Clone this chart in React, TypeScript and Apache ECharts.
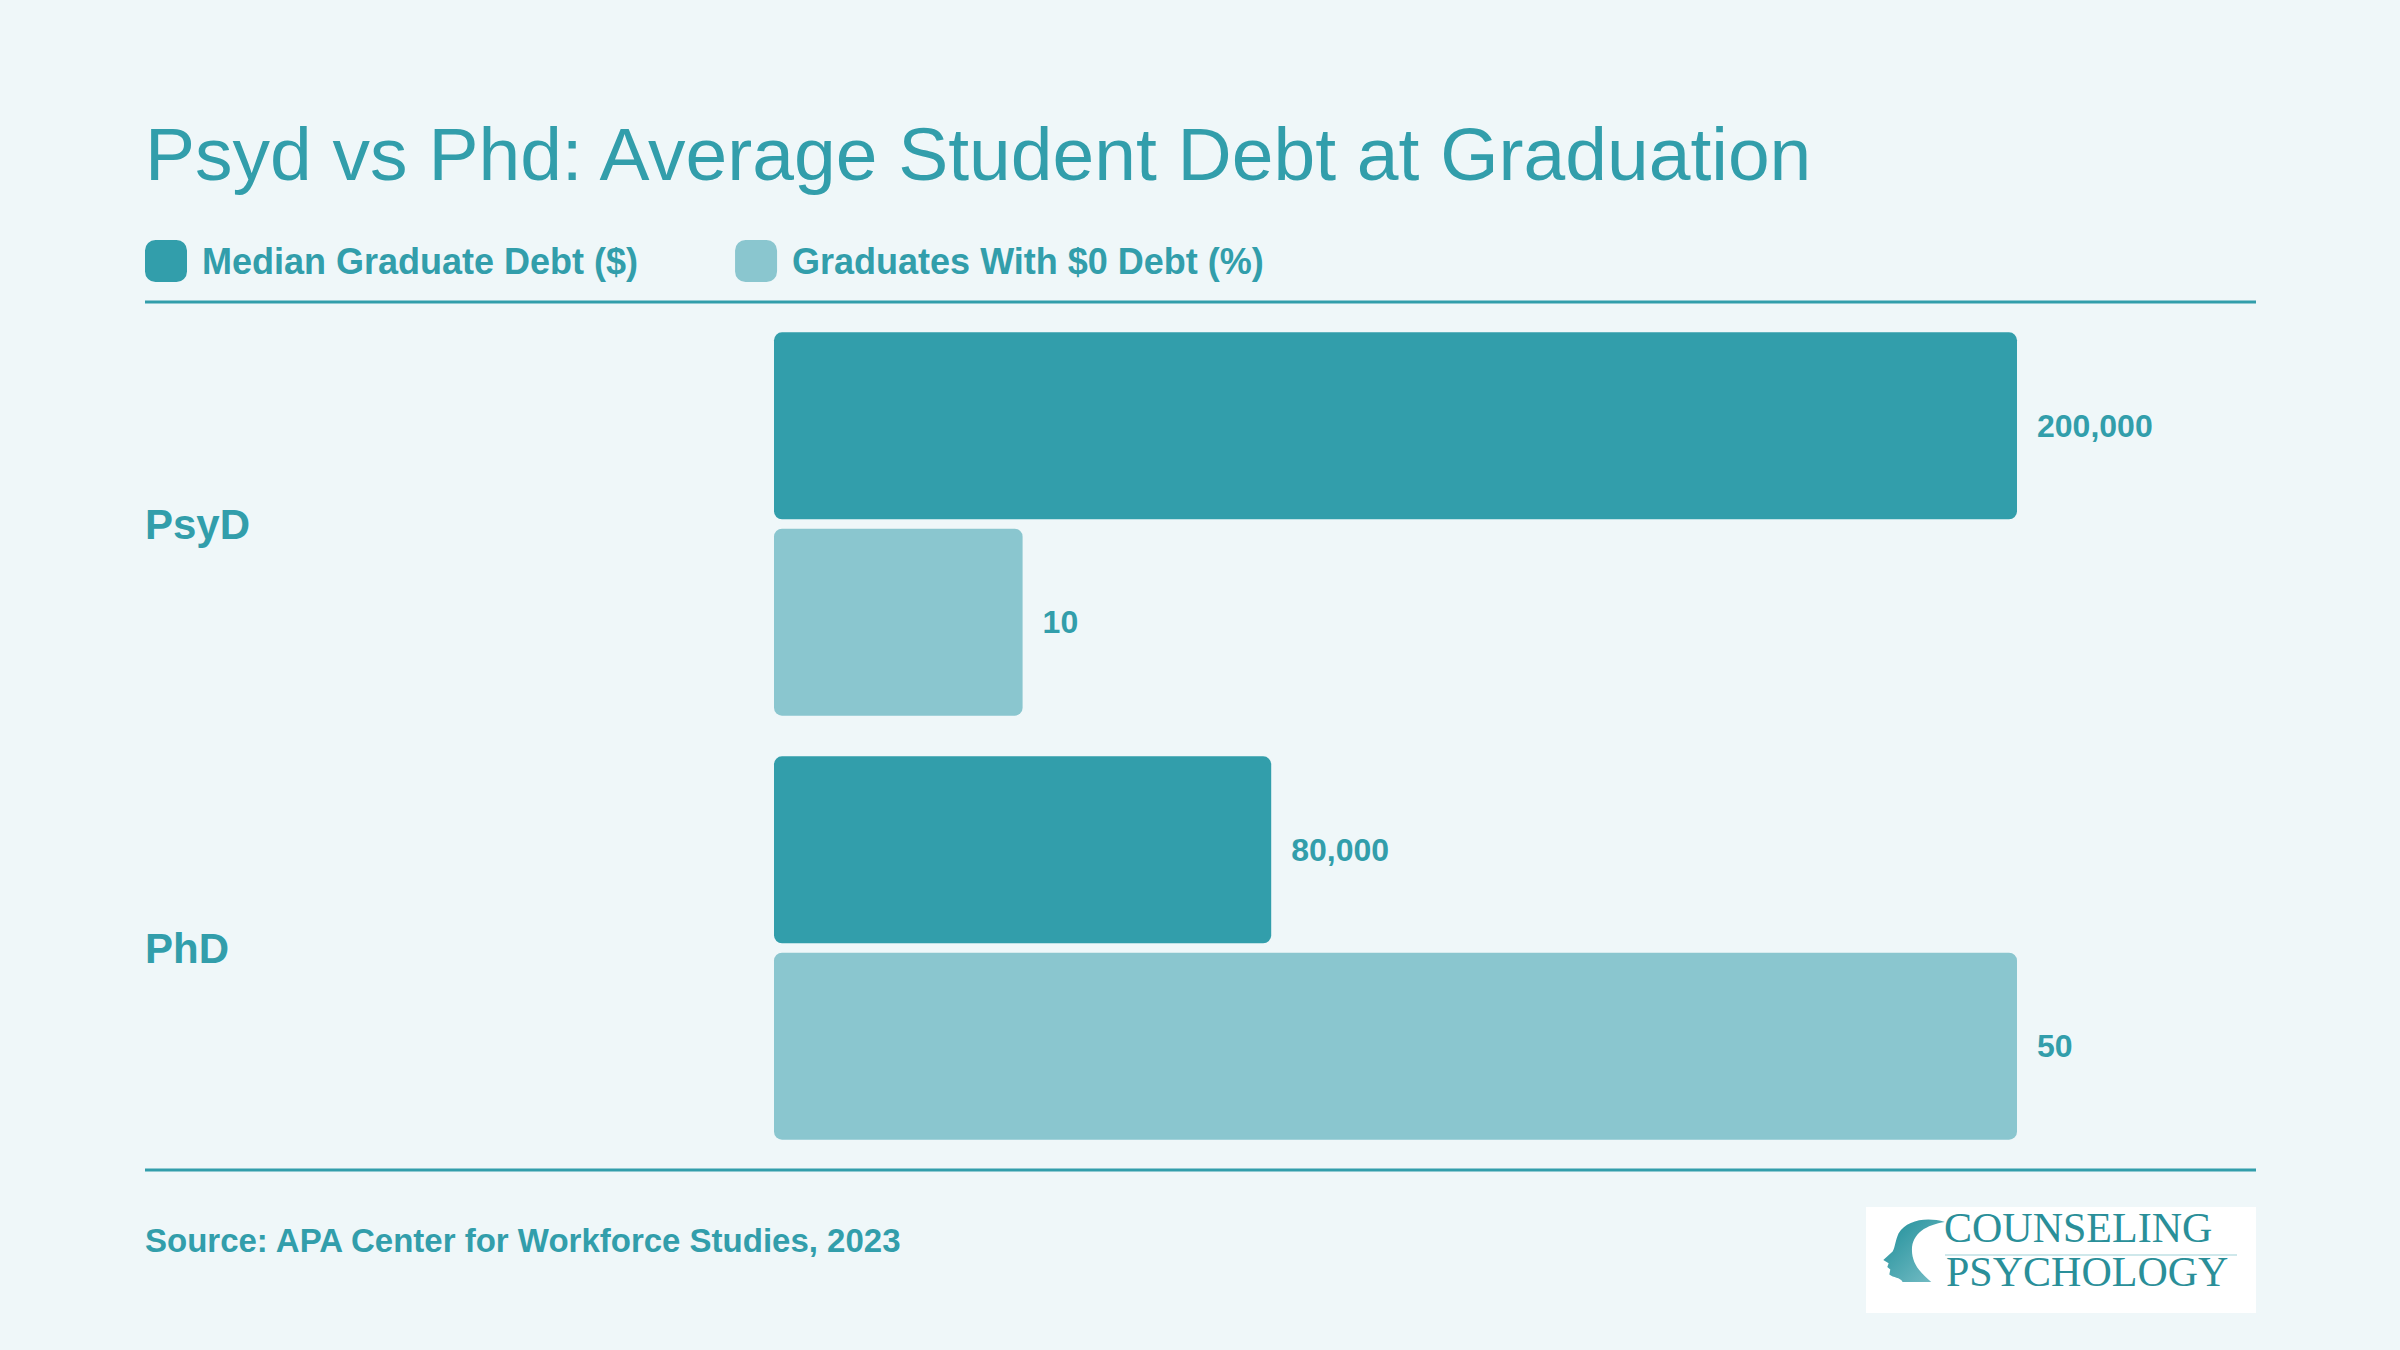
import React, { useEffect, useRef } from "react";
import * as echarts from "echarts";

const categories = ["PsyD", "PhD"];
const seriesNames = ["Median Graduate Debt ($)", "Graduates With $0 Debt (%)"];
const medianDebt = [200000, 80000];
const zeroDebtPct = [10, 50];
const title = "Psyd vs Phd: Average Student Debt at Graduation";
const source = "Source: APA Center for Workforce Studies, 2023";

const DARK = "#329EAB";
const LIGHT = "#8AC6CF";
const BG = "#EFF7F9";
const FONT = "'Liberation Sans', Arial, Helvetica, sans-serif";

const headPath =
  "M 255 66 C 200 50 140 60 116 100 C 106 122 106 140 98 155 L 70 180 L 86 190 L 82 201 L 91 209 L 88 224 C 100 234 120 232 128 246 L 214 246 C 180 218 156 190 156 150 C 156 100 200 74 255 66 Z";

export default function App() {
  const ref = useRef<HTMLDivElement>(null);
  useEffect(() => {
    if (!ref.current) return;
    try {
      echarts.graphic.registerShape("headlogo", echarts.graphic.extendPath(headPath, {}));
    } catch (e) {}
    const chart = echarts.init(ref.current, null, { renderer: "svg" });
    const fmt = (p: any) => Number(p.value).toLocaleString("en-US");
    chart.setOption({
      animation: false,
      backgroundColor: BG,
      textStyle: { fontFamily: FONT },
      title: {
        text: title,
        left: 145,
        top: 116,
        padding: 0,
        textStyle: { color: DARK, fontSize: 75, fontWeight: "normal", fontFamily: FONT },
      },
      legend: {
        left: 145,
        top: 240,
        padding: 0,
        itemWidth: 42,
        itemHeight: 42,
        itemGap: 97,
        icon: "roundRect",
        data: seriesNames,
        textStyle: {
          color: DARK,
          fontSize: 36,
          fontWeight: "bold",
          fontFamily: FONT,
          padding: [0, 0, 0, 10],
        },
      },
      grid: { left: 774, right: 383, top: 312, bottom: 190, containLabel: false },
      xAxis: [
        { type: "value", min: 0, max: 200000, show: false },
        { type: "value", min: 0, max: 50, show: false },
      ],
      yAxis: {
        type: "category",
        data: categories,
        inverse: true,
        axisLine: { show: false },
        axisTick: { show: false },
        splitLine: { show: false },
        axisLabel: {
          margin: 629,
          align: "left",
          color: DARK,
          fontSize: 42,
          fontWeight: "bold",
          fontFamily: FONT,
        },
      },
      series: [
        {
          name: seriesNames[0],
          type: "bar",
          xAxisIndex: 0,
          data: medianDebt,
          barWidth: 187,
          barGap: "5%",
          itemStyle: { color: DARK, borderRadius: 8 },
          label: {
            show: true,
            position: "right",
            distance: 20,
            formatter: fmt,
            color: DARK,
            fontSize: 32,
            fontWeight: "bold",
            fontFamily: FONT,
          },
        },
        {
          name: seriesNames[1],
          type: "bar",
          xAxisIndex: 1,
          data: zeroDebtPct,
          barWidth: 187,
          barGap: "5%",
          itemStyle: { color: LIGHT, borderRadius: 8 },
          label: {
            show: true,
            position: "right",
            distance: 20,
            formatter: fmt,
            color: DARK,
            fontSize: 32,
            fontWeight: "bold",
            fontFamily: FONT,
          },
        },
      ],
      graphic: [
        {
          type: "line",
          shape: { x1: 145, y1: 302, x2: 2256, y2: 302 },
          style: { stroke: DARK, lineWidth: 3 },
        },
        {
          type: "line",
          shape: { x1: 145, y1: 1170, x2: 2256, y2: 1170 },
          style: { stroke: DARK, lineWidth: 3 },
        },
        {
          type: "text",
          x: 145,
          y: 1240,
          style: {
            text: source,
            fill: DARK,
            font: `bold 33px ${FONT}`,
            textVerticalAlign: "middle",
            verticalAlign: "middle",
          },
        },
        {
          type: "rect",
          shape: { x: 1866, y: 1207, width: 390, height: 106 },
          style: { fill: "#FFFFFF" },
        },
        {
          type: "headlogo",
          x: 1860,
          y: 1200,
          scaleX: 1 / 3,
          scaleY: 1 / 3,
          style: {
            fill: new echarts.graphic.LinearGradient(0, 0, 1, 1, [
              { offset: 0, color: "#1E8E99" },
              { offset: 1, color: "#7CC0C8" },
            ]),
          },
        },
        {
          type: "text",
          x: 1944,
          y: 1249,
          style: {
            text: "COUNSELING",
            fill: "#2A8F99",
            font: `42px 'Liberation Serif', 'DejaVu Serif', serif`,
            textVerticalAlign: "bottom",
            verticalAlign: "bottom",
          },
        },
        {
          type: "line",
          shape: { x1: 1945, y1: 1255, x2: 2237, y2: 1255 },
          style: { stroke: "#BFE0E4", lineWidth: 1.5 },
        },
        {
          type: "text",
          x: 1946,
          y: 1293,
          style: {
            text: "PSYCHOLOGY",
            fill: "#2A8F99",
            font: `42px 'Liberation Serif', 'DejaVu Serif', serif`,
            textVerticalAlign: "bottom",
            verticalAlign: "bottom",
          },
        },
      ],
    });
    return () => chart.dispose();
  }, []);
  return (
    <div
      ref={ref}
      style={{ position: "fixed", left: 0, top: 0, width: 2400, height: 1350 }}
    />
  );
}
